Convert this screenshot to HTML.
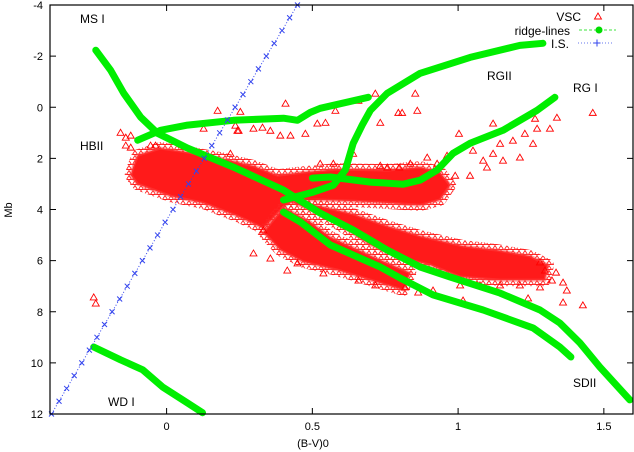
<!DOCTYPE html>
<html><head><meta charset="utf-8"><style>
html,body{margin:0;padding:0;background:#fff;}
svg{display:block;font-family:"Liberation Sans",sans-serif;}
</style></head><body>
<svg id="chart" width="634" height="452" xmlns="http://www.w3.org/2000/svg">
<defs>
<pattern id="tri" width="6" height="5" patternUnits="userSpaceOnUse">
<polygon points="0.5,4.5 3,0.5 5.5,4.5" fill="none" stroke="#ff2020" stroke-width="0.9"/>
</pattern>
</defs>
<rect width="634" height="452" fill="#fff"/>
<g id="cloud"></g><g id="scatter"></g><g id="ridges"></g><g id="isline"></g><g id="axes"></g>
</svg>
<script>
const xTicks=[0,0.5,1,1.5];
const xTickLabels=["0","0.5","1","1.5"];
const yTicks=[-4,-2,0,2,4,6,8,10,12];
const yTickLabels=["-4","-2","0","2","4","6","8","10","12"];
// dense cloud regions (B-V, Mb)
const cloudUpperX=[-0.113,-0.099,-0.021,0.072,0.185,0.298,0.380,0.469,0.586,0.757,0.870,0.938,0.973,0.938,0.870,0.767,0.640,0.527,0.442,0.408,0.332,0.243,0.127,0.014,-0.099,-0.123];
const cloudUpperY=[2.27,1.88,1.60,1.76,1.99,2.30,2.66,2.54,2.42,2.46,2.34,2.54,3.05,3.63,3.83,3.75,3.67,3.63,3.63,3.83,4.73,4.26,3.75,3.48,3.01,2.66];
const cloudMsX=[0.414,0.527,0.640,0.757,0.870,1.017,1.134,1.247,1.308,1.298,1.247,1.144,1.007,0.904,0.801,0.699,0.596,0.493];
const cloudMsY=[3.63,3.87,4.18,4.65,5.04,5.43,5.59,5.82,6.17,6.76,6.76,6.76,6.64,6.17,5.90,5.39,4.61,4.02];
const cloudLowX=[0.401,0.493,0.562,0.733,0.836,0.812,0.699,0.586,0.469,0.390,0.332];
const cloudLowY=[3.91,4.49,5.08,5.98,6.48,7.15,6.76,6.37,6.05,5.59,4.88];
// scattered VSC stars
const vscX=[0.175,0.253,0.236,0.247,0.298,0.329,0.408,0.356,0.390,0.425,0.476,-0.158,-0.140,-0.123,-0.140,-0.123,-0.055,-0.038,0.579,0.716,0.795,0.808,0.733,0.853,0.658,0.545,1.462,1.339,1.264,1.315,1.271,1.229,1.188,1.257,1.144,1.212,1.154,1.086,1.051,1.120,1.099,1.003,1.120,0.894,0.836,0.928,0.798,0.757,0.860,-0.250,-0.243,0.332,1.360,1.373,1.360,1.428,1.240,1.007,1.017,0.914,0.818,0.863,0.716,0.658,1.281,1.298,1.322,1.281,1.212,1.144,1.075,1.336,0.538,0.449,0.127,0.243,0.517,0.527,0.572,0.640,0.733,0.219,0.298,0.356,0.414,0.962,1.041,0.990];
const vscY=[0.12,0.16,0.70,0.90,0.82,0.78,-0.16,0.90,1.09,1.09,1.02,0.98,1.17,1.09,1.48,1.56,1.48,1.48,0.12,-0.55,0.20,0.20,0.59,-0.55,-0.27,0.59,0.20,0.39,0.43,0.82,0.82,1.02,1.29,1.41,1.41,1.95,2.07,2.07,1.68,1.80,2.34,1.02,0.62,1.95,2.19,2.19,2.34,2.34,0.12,7.42,7.66,4.80,6.84,7.15,7.62,7.73,7.46,6.95,7.54,7.15,7.03,7.23,6.95,6.76,6.05,6.37,6.76,7.03,6.95,6.95,6.95,6.45,6.48,6.09,0.82,0.90,0.62,2.19,2.19,1.80,2.27,1.80,5.70,5.90,6.37,1.88,2.66,2.66];
// ridge lines
const msX=[-0.243,-0.192,-0.147,-0.089,-0.031,0.072,0.229,0.401,0.527,0.640,0.757,0.870,0.973,1.144,1.281,1.349,1.418,1.486,1.589];
const msY=[-2.23,-1.45,-0.55,0.39,1.02,1.60,2.34,3.24,4.14,4.80,5.59,6.25,6.64,7.27,7.93,8.44,9.22,10.16,11.45];
const sdX=[0.401,0.459,0.562,0.733,0.801,0.914,1.086,1.257,1.349,1.387];
const sdY=[4.10,4.49,5.39,6.25,6.68,7.34,7.93,8.63,9.38,9.77];
const hbX=[-0.099,-0.021,0.072,0.229,0.401,0.449,0.493,0.527,0.692];
const hbY=[1.29,0.90,0.70,0.51,0.43,0.51,0.20,0.04,-0.39];
const rg2X=[0.401,0.503,0.572,0.613,0.640,0.671,0.699,0.757,0.870,1.041,1.212,1.291];
const rg2Y=[3.63,3.32,3.05,2.46,1.41,0.70,0.12,-0.55,-1.33,-1.95,-2.42,-2.50];
const rg1X=[0.500,0.562,0.699,0.812,0.870,0.928,0.983,1.041,1.154,1.271,1.332];
const rg1Y=[2.77,2.73,2.93,3.01,2.85,2.46,1.80,1.41,0.90,0.12,-0.39];
const wdX=[-0.250,-0.158,-0.082,-0.014,0.065,0.123];
const wdY=[9.38,9.88,10.27,10.94,11.52,11.95];
// instability strip
const isX=[-0.395,-0.369,-0.343,-0.317,-0.291,-0.265,-0.239,-0.213,-0.187,-0.161,-0.135,-0.109,-0.083,-0.057,-0.031,-0.005,0.022,0.048,0.075,0.102,0.129,0.155,0.182,0.209,0.235,0.262,0.289,0.315,0.342,0.369,0.396,0.422,0.449];
const isY=[12,11.5,11,10.5,10,9.5,9,8.5,8,7.5,7,6.5,6,5.5,5,4.5,4,3.5,3,2.5,2,1.5,1,0.5,0,-0.5,-1,-1.5,-2,-2.5,-3,-3.5,-4];

const X0=50,X1=633,Y0=5,Y1=414,xmin=-0.4,xmax=1.6,ymin=-4,ymax=12;
function sx(v){return X0+(v-xmin)/(xmax-xmin)*(X1-X0);}
function sy(v){return Y0+(v-ymin)/(ymax-ymin)*(Y1-Y0);}
const NS="http://www.w3.org/2000/svg";
function mk(tag,parent,attrs){const e=document.createElementNS(NS,tag);for(const k in attrs)e.setAttribute(k,attrs[k]);parent.appendChild(e);return e;}
function pts(xs,ys){return xs.map((v,i)=>sx(v).toFixed(1)+","+sy(ys[i]).toFixed(1)).join(" ");}

const cloud=document.getElementById('cloud');
[[cloudUpperX,cloudUpperY,'cloud-upper-ms'],[cloudMsX,cloudMsY,'cloud-main-sequence'],[cloudLowX,cloudLowY,'cloud-lower-band']].forEach(c=>{
  const e=mk('polygon',cloud,{points:pts(c[0],c[1]),fill:'none',stroke:'url(#tri)','stroke-width':12,'stroke-linejoin':'round'});
  
  
  const p=mk('polygon',cloud,{points:pts(c[0],c[1]),fill:'#ff1a1a',stroke:'#ff4040','stroke-width':3,'stroke-linejoin':'round','stroke-opacity':0.5});
  
  
});
const sc=document.getElementById('scatter');
vscX.forEach((v,i)=>{
  const x=sx(v),y=sy(vscY[i]);
  const t=mk('polygon',sc,{points:`${x-3.5},${y+3} ${x},${y-3} ${x+3.5},${y+3}`,fill:'none',stroke:'#ff0000','stroke-width':0.9});
  
  
});
const rg=document.getElementById('ridges');
[[msX,msY,'ridge-ms-i'],[sdX,sdY,'ridge-sd-ii'],[hbX,hbY,'ridge-hb-ii'],[rg2X,rg2Y,'ridge-rg-ii'],[rg1X,rg1Y,'ridge-rg-i'],[wdX,wdY,'ridge-wd-i']].forEach(r=>{
  const l=mk('polyline',rg,{points:pts(r[0],r[1]),fill:'none',stroke:'#00ee00','stroke-width':7,'stroke-linecap':'round','stroke-linejoin':'round'});
  
  
});
const isg=document.getElementById('isline');
const isl=mk('polyline',isg,{points:pts(isX,isY),fill:'none',stroke:'#3344ee','stroke-width':1,'stroke-dasharray':'1,2'});


isX.forEach((v,i)=>{
  const x=sx(v),y=sy(isY[i]);
  const m=mk('path',isg,{d:`M${x-2.5},${y-2.5}L${x+2.5},${y+2.5}M${x-2.5},${y+2.5}L${x+2.5},${y-2.5}`,stroke:'#3344ee','stroke-width':1});
  
  
});
const ax=document.getElementById('axes');
const fr=mk('rect',ax,{x:X0,y:Y0,width:X1-X0,height:Y1-Y0,fill:'none',stroke:'#000','stroke-width':1.2});


xTicks.forEach((v,i)=>{
  const x=sx(v);
  mk('path',ax,{d:`M${x},${Y1}v-6M${x},${Y0}v6`,stroke:'#000','stroke-width':1});
  const t=mk('text',ax,{x:x,y:Y1+16,'text-anchor':'middle','font-size':11,fill:'#000'});
  t.textContent=xTickLabels[i];
  
  
});
yTicks.forEach((v,i)=>{
  const y=sy(v);
  mk('path',ax,{d:`M${X0},${y}h6M${X1},${y}h-6`,stroke:'#000','stroke-width':1});
  const t=mk('text',ax,{x:X0-7,y:y+4,'text-anchor':'end','font-size':11,fill:'#000'});
  t.textContent=yTickLabels[i];
  
  
});
</script>
<svg style="position:absolute;left:0;top:0" width="634" height="452" xmlns="http://www.w3.org/2000/svg" font-family="Liberation Sans, sans-serif">
<text x="313" y="447" text-anchor="middle" font-size="11">(B-V)0</text>
<text x="12" y="210" text-anchor="middle" font-size="11" transform="rotate(-90 12 210)">Mb</text>
<text x="80" y="23" font-size="12">MS I</text>
<text x="80" y="150" font-size="12">HBII</text>
<text x="487" y="80" font-size="12">RGII</text>
<text x="573" y="92" font-size="12">RG I</text>
<text x="573" y="387" font-size="12">SDII</text>
<text x="108" y="406" font-size="12">WD I</text>
<g>
<text x="581" y="21" text-anchor="end" font-size="12">VSC</text>
<polygon points="594.5,19 598,13 601.5,19" fill="none" stroke="#f00" stroke-width="0.9"/>
<text x="570" y="35" text-anchor="end" font-size="12">ridge-lines</text>
<line x1="579" y1="30" x2="616" y2="30" stroke="#7fee7f" stroke-dasharray="3,2" stroke-width="1.5"/>
<circle cx="599" cy="30" r="3.5" fill="#00dd00"/>
<text x="569" y="48" text-anchor="end" font-size="12">I.S.</text>
<line x1="578" y1="43" x2="613" y2="43" stroke="#6677ee" stroke-dasharray="1,2" stroke-width="1"/>
<path d="M597,39.5v7M593.5,43h7" stroke="#3344ee" stroke-width="1"/>
</g>
</svg>
</body></html>
